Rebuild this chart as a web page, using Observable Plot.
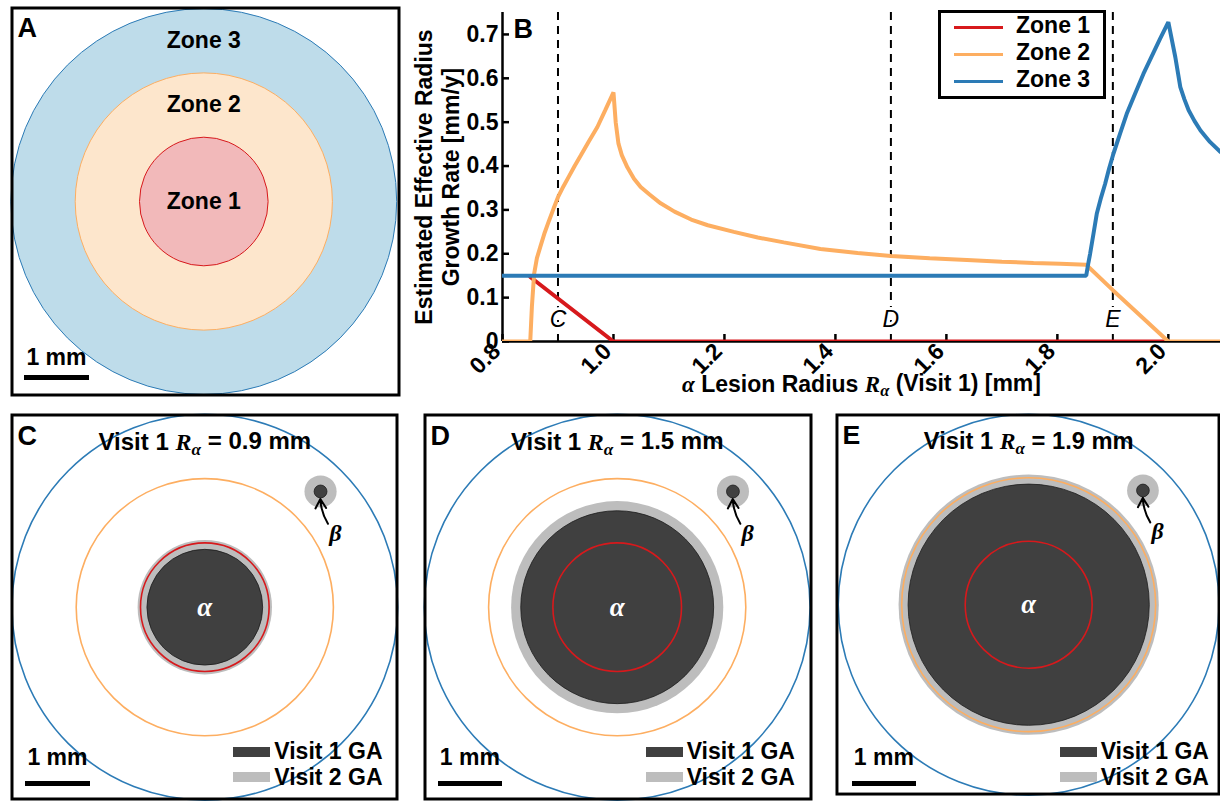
<!DOCTYPE html>
<html><head><meta charset="utf-8">
<script src="https://cdn.jsdelivr.net/npm/d3@7"></script>
<script src="https://cdn.jsdelivr.net/npm/@observablehq/plot@0.6"></script>
<style>
html,body{margin:0;padding:0;overflow:hidden;background:#fff;}
#root{position:relative;width:1220px;height:801px;overflow:hidden;background:#fff;font-family:"Liberation Sans",Arial,sans-serif;font-weight:bold;color:#000;}
#root div{position:absolute;}
</style></head><body><div id="root"></div>
<script>
// ---------------- data ----------------
const zoneNames = ["Zone 1", "Zone 2", "Zone 3"];
const zoneInnerMm = [0, 1, 2];
const zoneOuterMm = [1, 2, 3];
const zoneColors = ["#d7191c", "#fdae61", "#2c7bb6"];
const zoneFills = ["#f2b9ba", "#fde6cc", "#bedcea"];

// panel B series: alpha lesion radius (mm) vs. estimated growth rate (mm/y)
const zone1Radius = [0.850, 1.000, 2.000];
const zone1Rate   = [0.147, 0.000, 0.000];
const zone2Radius = [0.800, 0.850, 0.853, 0.857, 0.862, 0.868, 0.876, 0.884, 0.892, 0.900, 0.910, 0.920, 0.930, 0.941, 0.955, 0.971, 0.985, 1.000, 1.004, 1.009, 1.015, 1.025, 1.037, 1.049, 1.065, 1.085, 1.110, 1.140, 1.170, 1.217, 1.260, 1.307, 1.373, 1.440, 1.500, 1.570, 1.637, 1.700, 1.757, 1.805, 1.852, 1.900, 2.000, 2.094];
const zone2Rate   = [0, 0, 0.08, 0.154, 0.190, 0.215, 0.248, 0.276, 0.303, 0.329, 0.354, 0.377, 0.400, 0.424, 0.455, 0.489, 0.527, 0.568, 0.500, 0.451, 0.425, 0.397, 0.371, 0.352, 0.335, 0.315, 0.296, 0.278, 0.265, 0.250, 0.237, 0.226, 0.211, 0.202, 0.195, 0.190, 0.186, 0.182, 0.179, 0.177, 0.175, 0.117, 0, 0];
const zone3Radius = [0.800, 1.852, 1.856, 1.859, 1.865, 1.871, 1.878, 1.886, 1.893, 1.901, 1.913, 1.925, 1.940, 1.955, 1.970, 1.985, 2.000, 2.006, 2.0126, 2.0216, 2.029, 2.0366, 2.047, 2.058, 2.075, 2.094];
const zone3Rate   = [0.15, 0.15, 0.18, 0.20, 0.245, 0.291, 0.325, 0.359, 0.393, 0.428, 0.474, 0.519, 0.565, 0.610, 0.650, 0.690, 0.728, 0.690, 0.648, 0.580, 0.552, 0.527, 0.503, 0.481, 0.455, 0.432];

const xTickValues = [0.8, 1.0, 1.2, 1.4, 1.6, 1.8, 2.0];
const yTickValues = [0, 0.1, 0.2, 0.3, 0.4, 0.5, 0.6, 0.7];
const markerRadius = [0.9, 1.5, 1.9];
const markerLabels = ["C", "D", "E"];
const yLabelLines = ["Estimated Effective Radius", "Growth Rate [mm/y]"];

// panels C-E
const visit1Radius = [0.9, 1.5, 1.9];
const visit2Radius = [1.045, 1.65, 2.05];
const betaCenterMm = [1.8, 1.8];
const betaLabelMm = [2.03, 1.15];
const betaVisit1Radius = 0.1;
const betaVisit2Radius = 0.25;
const gaLabels = ["Visit 1 GA", "Visit 2 GA"];
const gaColors = ["#404040", "#bdbdbd"];
const scaleBarMm = 1;
const scaleBarLabel = "1 mm";

// ---------------- layout ----------------
const K = 64.3; // px per mm
const boxes = {
  A: {left: 10, top: 6, w: 390, h: 390, cx: 203.3, cy: 201, barTop: 368.5, barTextTop: 340},
  C: {left: 10, top: 413, w: 388, h: 387, cx: 204.3, cy: 606.7, barTop: 368, barTextTop: 332.5},
  D: {left: 423, top: 413, w: 389, h: 387, cx: 616.7, cy: 606.7, barTop: 368, barTextTop: 332.5},
  E: {left: 835, top: 413, w: 390, h: 387, cx: 1030.7, cy: 606.7, barTop: 368, barTextTop: 332.5}
};
const FONT = "'Liberation Sans', Arial, sans-serif";
const MATH = "'Liberation Serif', 'DejaVu Serif', serif";
const baseStyle = {fontFamily: FONT, fontSize: "23px", fontWeight: "bold", background: "transparent", overflow: "visible", color: "black"};
const root = document.getElementById("root");

function place(el, left, top) {
  const d = document.createElement("div");
  d.style.left = left + "px"; d.style.top = top + "px";
  d.appendChild(el); root.appendChild(d); return d;
}
function addDiv(parent, css, text) {
  const d = document.createElement("div");
  Object.assign(d.style, css);
  if (text != null) d.textContent = text;
  parent.appendChild(d); return d;
}
// turn a plain Plot text into rich text (italic math symbols, subscripts)
function setRich(svg, plain, parts) {
  d3.select(svg).selectAll("text").filter(function() { return this.textContent === plain; }).each(function() {
    const t = d3.select(this);
    t.text(null);
    let sub = false;
    for (const p of parts) {
      const ts = t.append("tspan").text(p.t);
      if (p.math) ts.attr("font-family", MATH).attr("font-style", "italic");
      if (p.sub && !sub) { ts.attr("dy", "0.3em").attr("font-size", "0.72em"); sub = true; }
      else if (!p.sub && sub) { ts.attr("dy", "-0.22em"); sub = false; }
    }
  });
}

const zones = zoneNames.map((name, i) => ({name, cx: 0, cy: 0, rIn: zoneInnerMm[i], rOut: zoneOuterMm[i], color: zoneColors[i], fill: zoneFills[i]}));

function circlePlot(box, marks) {
  const xDom = [(box.left - box.cx) / K, (box.left + box.w - box.cx) / K];
  const yDom = [(box.cy - box.top - box.h) / K, (box.cy - box.top) / K];
  return Plot.plot({
    width: box.w, height: box.h, margin: 0,
    x: {domain: xDom, axis: null}, y: {domain: yDom, axis: null},
    r: {type: "linear", domain: [0, 1], range: [0, K]},
    style: baseStyle,
    marks: [...marks, Plot.frame({stroke: "black", strokeWidth: 3, inset: 1.5})]
  });
}
function addScaleBar(container, plot, box) {
  const sx = plot.scale("x");
  const w = sx.apply(scaleBarMm) - sx.apply(0);
  const left = box.cx - box.left - 179;
  addDiv(container, {left: left + "px", top: box.barTop + "px", width: w + "px", height: "5px", background: "#000"});
  addDiv(container, {left: left + "px", top: box.barTextTop + "px", width: w + "px", textAlign: "center", fontSize: "23px", lineHeight: "23px", whiteSpace: "nowrap"}, scaleBarLabel);
}

// ---------------- Panel A ----------------
{
  const box = boxes.A;
  const plot = circlePlot(box, [
    ...zones.slice().reverse().map(z => Plot.dot([z], {x: "cx", y: "cy", r: "rOut", fill: z.fill, stroke: z.color, strokeWidth: 1})),
    Plot.text(zones, {x: "cx", y: d => d.rIn === 0 ? 0 : (d.rIn + d.rOut) / 2, text: "name", fontSize: 23}),
    Plot.text(["A"], {text: d => d, frameAnchor: "top-left", dx: 7, dy: 11, lineAnchor: "top", textAnchor: "start", fontSize: 27})
  ]);
  const c = place(plot, box.left, box.top);
  addScaleBar(c, plot, box);
}

// ---------------- Panel B ----------------
{
  const line = (xs, ys, color) => Plot.line(xs.map((x, i) => ({x, y: ys[i]})), {x: "x", y: "y", stroke: color, strokeWidth: 4, clip: true, strokeLinejoin: "miter"});
  const markers = markerRadius.map((x, i) => ({x, label: markerLabels[i]}));
  const xLabelPlain = "α Lesion Radius Rα (Visit 1) [mm]";
  const plotB = Plot.plot({
    width: 817, height: 400,
    marginLeft: 99, marginRight: 0, marginTop: 12, marginBottom: 59,
    x: {domain: [0.8, 2.094], axis: null},
    y: {domain: [0, 0.75], axis: null},
    style: baseStyle,
    marks: [
      Plot.ruleX(markers, {x: "x", strokeDasharray: "8,6", strokeWidth: 2}),
      Plot.text(markers, {x: "x", text: "label", frameAnchor: "bottom", dy: -15, fontStyle: "italic", fontWeight: "normal", fontSize: 23, fill: "black", stroke: "white", strokeWidth: 6}),
      Plot.axisX({ticks: xTickValues, tickSize: -7, tickFormat: () => "", label: null, strokeWidth: 2.5}),
      Plot.axisX({ticks: xTickValues, tickSize: 0, tickPadding: 6, tickRotate: -45, dx: -6, tickFormat: d3.format(".1f"), label: null}),
      Plot.axisY({ticks: yTickValues, tickSize: -7, tickFormat: () => "", label: null, strokeWidth: 2.5}),
      Plot.axisY({ticks: yTickValues, tickSize: 0, tickPadding: 4, tickFormat: d => d === 0 ? "0" : d3.format(".1f")(d), label: null}),
      Plot.axisY({ticks: [], tickSize: 0, label: yLabelLines[0], labelAnchor: "center", labelOffset: 87, labelArrow: "none"}),
      Plot.axisY({ticks: [], tickSize: 0, label: yLabelLines[1], labelAnchor: "center", labelOffset: 60, labelArrow: "none"}),
      Plot.ruleY([0], {strokeWidth: 2.5}),
      Plot.ruleX([0.8], {strokeWidth: 2.5}),
      line(zone1Radius, zone1Rate, zoneColors[0]),
      line(zone2Radius, zone2Rate, zoneColors[1]),
      line(zone3Radius, zone3Rate, zoneColors[2]),
      Plot.text([xLabelPlain], {text: d => d, frameAnchor: "bottom", dy: 50, fontSize: 23}),
      Plot.text(["B"], {text: d => d, frameAnchor: "top-left", dx: 11, dy: 6, lineAnchor: "top", textAnchor: "start", fontSize: 27})
    ]
  });
  setRich(plotB, xLabelPlain, [{t: "α", math: true}, {t: " Lesion Radius "}, {t: "R", math: true}, {t: "α", math: true, sub: true}, {t: " (Visit 1) [mm]"}]);
  place(plotB, 403, 0);

  // legend box
  const leg = addDiv(root, {left: "938px", top: "10px", width: "168px", height: "89px", border: "3px solid #000", boxSizing: "border-box", background: "#fff"});
  zoneNames.forEach((name, i) => {
    addDiv(leg, {left: "13px", top: (13.2 + 26.8 * i) + "px", width: "49px", height: "3px", background: zoneColors[i]});
    addDiv(leg, {left: "75px", top: (1.2 + 26.8 * i) + "px", fontSize: "23px", lineHeight: "23px", whiteSpace: "nowrap"}, name);
  });
}

// ---------------- Panels C, D, E ----------------
["C", "D", "E"].forEach((letter, i) => {
  const box = boxes[letter];
  const lesion = {x: 0, y: 0};
  const beta = {x: betaCenterMm[0], y: betaCenterMm[1], lx: betaLabelMm[0], ly: betaLabelMm[1]};
  const title = `Visit 1 Rα = ${visit1Radius[i]} mm`;
  const plot = circlePlot(box, [
    Plot.dot([{...lesion, r: visit2Radius[i]}], {x: "x", y: "y", r: "r", fill: gaColors[1]}),
    Plot.dot([{...lesion, r: visit1Radius[i]}], {x: "x", y: "y", r: "r", fill: gaColors[0], stroke: "#1c1c1c", strokeWidth: 0.8}),
    Plot.dot([{...beta, r: betaVisit2Radius}], {x: "x", y: "y", r: "r", fill: gaColors[1]}),
    Plot.dot([{...beta, r: betaVisit1Radius}], {x: "x", y: "y", r: "r", fill: gaColors[0], stroke: "#1c1c1c", strokeWidth: 0.8}),
    ...zones.map(z => Plot.dot([z], {x: "cx", y: "cy", r: "rOut", fill: "none", stroke: z.color, strokeWidth: 1.6})),
    Plot.text([{...lesion, t: "α"}], {x: "x", y: "y", text: "t", fill: "white", fontFamily: MATH, fontStyle: "italic", fontWeight: "bold", fontSize: 27}),
    Plot.arrow([beta], {x1: "lx", y1: "ly", x2: "x", y2: "y", bend: 25, insetStart: 12, insetEnd: 7.5, strokeWidth: 2, headLength: 8, stroke: "black"}),
    Plot.text([{...beta, t: "β"}], {x: "lx", y: "ly", text: "t", fontFamily: MATH, fontStyle: "italic", fontWeight: "bold", fontSize: 24}),
    Plot.text([{...lesion, t: title}], {x: "x", text: "t", frameAnchor: "top", dy: 19, fontSize: 24}),
    Plot.text([letter], {text: d => d, frameAnchor: "top-left", dx: 7, dy: 12, lineAnchor: "top", textAnchor: "start", fontSize: 27})
  ]);
  setRich(plot, title, [{t: "Visit 1 "}, {t: "R", math: true}, {t: "α", math: true, sub: true}, {t: ` = ${visit1Radius[i]} mm`}]);
  const c = place(plot, box.left, box.top);
  addScaleBar(c, plot, box);
  const lx = box.cx - box.left + 29;
  const rowTops = [333.7, 358.7];
  const textTops = [326.5, 353.2];
  gaLabels.forEach((lab, j) => {
    addDiv(c, {left: lx + "px", top: rowTops[j] + "px", width: "37px", height: "10px", background: gaColors[j]});
    addDiv(c, {left: (lx + 41) + "px", top: textTops[j] + "px", fontSize: "23px", lineHeight: "23px", whiteSpace: "nowrap"}, lab);
  });
});
</script></body></html>
